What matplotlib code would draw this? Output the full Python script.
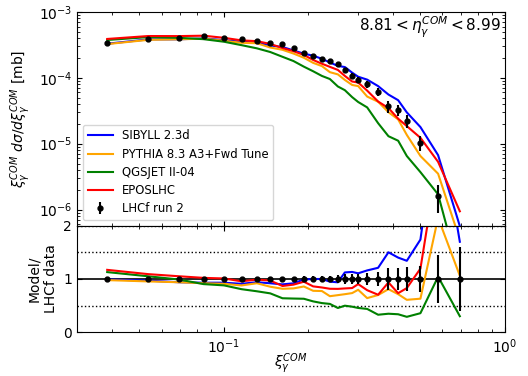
import numpy as np
import matplotlib
matplotlib.use("Agg")
import matplotlib.pyplot as plt

# x bin centres (xi_gamma^COM)
xi = [0.0384, 0.0538, 0.0691, 0.0846, 0.100, 0.1155, 0.131, 0.1462, 0.1616,
      0.1769, 0.1926, 0.2078, 0.2233, 0.2384, 0.2545, 0.2695, 0.2861, 0.3006,
      0.3236, 0.354, 0.3853, 0.4172, 0.4479, 0.5008, 0.5789, 0.6918]

# LHCf data
lhcf = [3.33e-4, 3.96e-4, 4.10e-4, 4.28e-4, 4.02e-4, 3.88e-4, 3.65e-4, 3.38e-4,
        3.27e-4, 2.84e-4, 2.35e-4, 2.17e-4, 1.95e-4, 1.80e-4, 1.62e-4, 1.30e-4,
        1.06e-4, 9.4e-5, 8.1e-5, 6.2e-5, 3.72e-5, 3.27e-5, 2.23e-5, 1.03e-5,
        1.63e-6, 3.3e-7]
lhcf_relerr = [0.01, 0.01, 0.01, 0.01, 0.015, 0.02, 0.02, 0.03, 0.03, 0.04,
               0.05, 0.05, 0.06, 0.06, 0.07, 0.09, 0.10, 0.10, 0.12, 0.13,
               0.20, 0.20, 0.23, 0.25, 0.45, 0.60]

sibyll = [3.30e-4, 3.84e-4, 3.85e-4, 3.98e-4, 3.74e-4, 3.53e-4, 3.43e-4, 3.11e-4,
          2.94e-4, 2.61e-4, 2.33e-4, 2.17e-4, 1.95e-4, 1.71e-4, 1.52e-4, 1.46e-4,
          1.20e-4, 1.04e-4, 9.4e-5, 7.5e-5, 5.58e-5, 4.58e-5, 2.99e-5, 1.79e-5,
          6.7e-6, 5.6e-7]
pythia = [3.26e-4, 3.78e-4, 3.85e-4, 3.94e-4, 3.66e-4, 3.41e-4, 3.36e-4, 2.89e-4,
          2.67e-4, 2.34e-4, 2.02e-4, 1.69e-4, 1.51e-4, 1.22e-4, 1.13e-4, 9.3e-5,
          7.8e-5, 7.5e-5, 5.2e-5, 4.34e-5, 3.01e-5, 2.34e-5, 1.36e-5, 6.5e-6,
          3.5e-6, 3.5e-7]
qgsjet = [3.76e-4, 4.16e-4, 4.06e-4, 3.87e-4, 3.54e-4, 3.14e-4, 2.81e-4, 2.47e-4,
          2.09e-4, 1.80e-4, 1.48e-4, 1.26e-4, 1.07e-4, 9.6e-5, 7.4e-5, 6.5e-5,
          5.1e-5, 4.3e-5, 3.56e-5, 2.05e-5, 1.30e-5, 1.11e-5, 6.5e-6, 3.7e-6,
          1.70e-6, 1.0e-7]
epos = [3.90e-4, 4.32e-4, 4.31e-4, 4.37e-4, 4.06e-4, 3.71e-4, 3.61e-4, 3.28e-4,
        2.84e-4, 2.54e-4, 2.23e-4, 1.87e-4, 1.64e-4, 1.47e-4, 1.32e-4, 1.07e-4,
        8.8e-5, 8.5e-5, 6.4e-5, 4.37e-5, 3.48e-5, 2.40e-5, 1.85e-5, 1.23e-5,
        5.3e-6, 9.4e-7]

model_names = ["SIBYLL 2.3d", "PYTHIA 8.3 A3+Fwd Tune", "QGSJET II-04", "EPOSLHC"]
model_colors = ["blue", "orange", "green", "red"]
models = [sibyll, pythia, qgsjet, epos]

x = np.array(xi)
d = np.array(lhcf)
rel = np.array(lhcf_relerr)

fig = plt.figure(figsize=(5.28, 3.76), dpi=100)
gs = fig.add_gridspec(2, 1, height_ratios=[2, 1], hspace=0,
                      left=0.146, right=0.956, top=0.968, bottom=0.116)
ax = fig.add_subplot(gs[0])
axr = fig.add_subplot(gs[1], sharex=ax)

for name, col, m in zip(model_names, model_colors, models):
    ax.plot(x, m, color=col, lw=1.5, label=name)
ax.errorbar(x, d, yerr=d * rel, fmt='o', color='k', ms=3.5, elinewidth=1.5,
            capsize=0, label="LHCf run 2")

ax.set_xscale('log')
ax.set_yscale('log')
ax.set_xlim(0.03, 1.0)
ax.set_ylim(5.7e-7, 1e-3)
ax.set_ylabel(r'$\xi_{\gamma}^{COM}\ d\sigma/d\xi_{\gamma}^{COM}$ [mb]', fontsize=10)
ax.tick_params(which='both', direction='in', top=True, right=True, labelbottom=False)
ax.text(0.99, 0.93, r'$8.81 < \eta_{\gamma}^{COM} < 8.99$', transform=ax.transAxes,
        ha='right', va='center', fontsize=11)
ax.legend(loc='lower left', fontsize='small', handlelength=2.2,
          handletextpad=0.8, labelspacing=0.45)

for name, col, m in zip(model_names, model_colors, models):
    axr.plot(x, np.array(m) / d, color=col, lw=1.5)
axr.errorbar(x, np.ones_like(d), yerr=rel, fmt='o', color='k', ms=3.5,
             elinewidth=1.5, capsize=0)
axr.axhline(1.0, color='k', lw=1.2, zorder=1)
for yv in (0.5, 1.5, 2.0):
    axr.axhline(yv, color='k', lw=1.0, ls=':', zorder=1)
axr.set_ylim(0, 2)
axr.set_yticks([0, 1, 2])
axr.set_xlim(0.03, 1.0)
axr.set_ylabel('Model/\nLHCf data', fontsize=10)
axr.set_xlabel(r'$\xi_{\gamma}^{COM}$', fontsize=10, labelpad=-3)
axr.tick_params(which='both', direction='in', top=True, right=True)

fig.savefig('out.png', dpi=100)
